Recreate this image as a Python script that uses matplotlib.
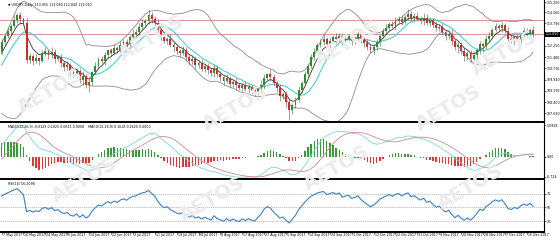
import matplotlib
matplotlib.use("Agg")
import matplotlib.pyplot as plt
import numpy as np
import pandas as pd

title = "USDJPY,Daily  113.055 113.080 112.840 113.010"
macd_title = "MACD(12,26,9) -0.0123 0.2025 0.0615 0.0008    MACD(12,26,9) 0.1618 0.1620 0.0000"
rsi_title = "RSI(14) 56.2098"

# april closes, only used to warm the indicators up
warmup_closes = [111.35, 111.10, 110.85, 110.70, 111.05, 110.80, 110.45, 110.10, 109.60, 109.15,
                 109.35, 108.90, 108.60, 108.45, 108.85, 109.05, 109.30, 109.10, 109.50, 110.05,
                 110.90, 111.10, 111.25, 111.55, 111.45, 111.85]

closes = [112.55, 112.95, 113.30, 113.65, 114.05, 114.35, 114.10, 113.80, 111.30, 111.55,
          111.20, 111.40, 111.25, 111.75, 111.90, 111.60, 111.85, 111.35, 111.50, 111.05,
          110.80, 110.95, 110.45, 110.30, 110.55, 109.90, 110.20, 109.55, 109.80, 110.45,
          110.90, 111.35, 111.20, 111.60, 111.95, 111.75, 112.10, 111.95, 112.35, 112.55,
          112.40, 112.85, 113.10, 113.20, 113.55, 113.80, 113.95, 114.35, 114.10, 113.85,
          113.35, 112.90, 112.60, 112.75, 112.35, 112.15, 111.90, 111.75, 111.95, 111.50,
          111.20, 111.35, 110.95, 111.05, 110.70, 110.85, 110.60, 110.40, 110.75, 110.30,
          110.10, 109.85, 110.05, 109.65, 109.80, 109.55, 109.40, 109.60, 109.30, 109.45,
          109.20, 109.10, 109.35, 109.60, 110.05, 110.30, 110.15, 109.70, 109.35, 108.85,
          108.95, 108.40, 107.85, 108.20, 108.55, 109.20, 109.70, 110.30, 110.90, 111.50,
          111.85, 112.30, 112.55, 112.70, 112.40, 112.60, 112.85, 112.70, 112.95, 112.55,
          112.75, 112.90, 112.60, 112.80, 113.05, 112.70, 112.45, 112.20, 111.95, 112.15,
          112.50, 112.95, 113.25, 113.50, 113.75, 113.60, 113.95, 114.10, 113.90, 114.25,
          114.45, 114.15, 114.30, 114.10, 113.95, 114.20, 113.85, 114.00, 113.70, 113.45,
          113.55, 113.20, 112.95, 113.10, 112.60, 112.15, 112.35, 111.90, 111.55, 111.75,
          111.35, 111.60, 111.95, 112.40, 112.25, 112.70, 112.95, 113.35, 113.60, 113.45,
          113.70, 113.30, 112.75, 112.60, 112.85, 112.70, 113.00, 113.25, 113.10, 113.35,
          113.05]

# wick lengths in hundredths of a yen
upper_wick = [20, 15, 25, 10, 30, 18, 22, 12, 35, 20,
              15, 28, 12, 20, 25, 10, 30, 18, 14, 22,
              16, 25, 12, 30, 20, 18, 35, 15, 22, 10,
              28, 14, 20, 25, 12, 18, 30, 16, 22, 15,
              20, 12, 28, 18, 25, 30, 15, 40, 22, 18,
              25, 15, 20, 12, 30, 18, 22, 15, 28, 20,
              14, 25, 18, 22, 30, 12, 20, 16, 25, 18,
              22, 15, 30, 12, 20, 25, 18, 14, 28, 20,
              15, 22, 18, 30, 25, 12, 40, 20, 15, 28,
              18, 22, 25, 15, 20, 30, 18, 25, 12, 22,
              28, 15, 20, 35, 18, 25, 12, 30, 20, 15,
              22, 18, 28, 12, 25, 20, 15, 30, 18, 22,
              25, 12, 20, 28, 15, 22, 30, 18, 25, 15,
              35, 20, 18, 25, 12, 30, 22, 15, 20, 28,
              18, 25, 15, 22, 30, 12, 20, 18, 25, 15,
              22, 28, 18, 20, 15, 30, 25, 12, 22, 18,
              20, 15, 28, 22, 18, 25, 12, 30, 20, 15,
              25]
lower_wick = [18, 22, 12, 25, 15, 20, 30, 14, 25, 20,
              22, 15, 28, 12, 20, 25, 18, 30, 15, 22,
              25, 18, 30, 15, 22, 20, 35, 18, 45, 25,
              15, 20, 12, 25, 18, 22, 15, 20, 12, 18,
              22, 15, 20, 12, 18, 15, 25, 20, 28, 18,
              20, 25, 15, 22, 18, 30, 20, 25, 15, 22,
              28, 18, 25, 20, 15, 22, 30, 18, 25, 20,
              22, 28, 15, 25, 18, 30, 20, 22, 15, 28,
              20, 25, 18, 22, 30, 15, 28, 20, 25, 35,
              22, 30, 70, 25, 20, 15, 18, 12, 20, 15,
              22, 18, 15, 25, 20, 28, 15, 22, 18, 25,
              20, 15, 28, 22, 18, 25, 30, 20, 15, 22,
              18, 25, 15, 20, 22, 15, 25, 18, 20, 15,
              22, 18, 25, 15, 20, 28, 18, 22, 25, 20,
              15, 22, 28, 20, 25, 18, 35, 22, 30, 25,
              20, 28, 35, 25, 40, 22, 18, 25, 15, 20,
              22, 15, 25, 18, 28, 20, 22, 15, 25, 18,
              20]

level_lines = [114.03, 113.07]
price_ticks = [115.250, 114.560, 113.790, 112.250, 111.480, 110.710, 109.940, 109.170, 108.400, 107.630]
rsi_levels = [70, 50, 30]
date_labels = ["7 May 2017", "16 May 2017", "24 May 2017", "6 Jun 2017", "14 Jun 2017", "22 Jun 2017",
               "3 Jul 2017", "11 Jul 2017", "19 Jul 2017", "28 Jul 2017", "8 Aug 2017", "17 Aug 2017",
               "27 Aug 2017", "5 Sep 2017", "14 Sep 2017", "24 Sep 2017", "3 Oct 2017", "12 Oct 2017",
               "22 Oct 2017", "31 Oct 2017", "9 Nov 2017", "20 Nov 2017", "28 Nov 2017", "7 Dec 2017",
               "15 Dec 2017"]

# indicators
n = len(closes)
w = len(warmup_closes)
s = pd.Series(warmup_closes + closes)
mid = s.rolling(20).mean()
sd = s.rolling(20).std(ddof=0)
bb_up = (mid + 2 * sd).values[w:]
bb_dn = (mid - 2 * sd).values[w:]
ma_fast = s.ewm(span=5, adjust=False).mean().values[w:]
ma_slow = s.rolling(10).mean().values[w:]
macd = s.ewm(span=12, adjust=False).mean() - s.ewm(span=26, adjust=False).mean()
signal = macd.rolling(9).mean()
hist = (macd - signal).values[w:]
macd = macd.values[w:]
signal = signal.values[w:]
d = s.diff()
gain = d.clip(lower=0).ewm(alpha=1 / 14, adjust=False).mean()
loss = (-d.clip(upper=0)).ewm(alpha=1 / 14, adjust=False).mean()
rsi = (100 - 100 / (1 + gain / loss)).values[w:]

c = np.array(closes)
o = np.array([warmup_closes[-1]] + closes[:-1])
hi = np.maximum(o, c) + np.array(upper_wick) / 100
lo = np.minimum(o, c) - np.array(lower_wick) / 100
x = np.arange(n)

fig = plt.figure(figsize=(5.6, 2.4), dpi=100)
W = 544 / 560
ax = fig.add_axes([0, (240 - 122) / 240, W, 122 / 240])
ax2 = fig.add_axes([0, (240 - 179) / 240, W, 56 / 240])
ax3 = fig.add_axes([0, (240 - 232) / 240, W, 52 / 240])

fs = 2.3
for a in (ax, ax2, ax3):
    a.set_xlim(-0.5, 173.5)
    a.spines["left"].set_visible(False)
    a.spines["top"].set_visible(False)
    a.spines["bottom"].set_linewidth(1.4)
    a.spines["right"].set_linewidth(0.8)
    a.yaxis.tick_right()
    a.tick_params(axis="y", labelsize=fs, length=1.2, width=0.4, pad=0.6)
    a.set_xticks([])

# watermark
for wx, wy in [(0.09, 0.62), (0.27, 0.84), (0.42, 0.55), (0.62, 0.82), (0.8, 0.55),
               (0.15, 0.25), (0.38, 0.17), (0.6, 0.3), (0.84, 0.22), (0.9, 0.78)]:
    fig.text(wx, wy, "AETOS", fontsize=14, fontweight="bold", color="#ececec",
             rotation=30, ha="center", va="center", zorder=0)

# price panel
ax.set_ylim(107.04, 115.4)
for lv in level_lines:
    ax.axhline(lv, color="#d99a9a", lw=0.8, zorder=1)
ax.plot(x, bb_up, color="#8c8c8c", lw=0.6)
ax.plot(x, bb_dn, color="#8c8c8c", lw=0.6)
ax.plot(x, ma_slow, color="#33cccc", lw=0.7)
ax.plot(x, ma_fast, color="#333333", lw=0.6)
up = c >= o
cols = np.where(up, "#2e8b2e", "#d42a2a")
ax.vlines(x, lo, hi, colors="#555555", lw=0.4, zorder=3)
ax.bar(x, np.maximum(np.abs(c - o), 0.02), bottom=np.minimum(o, c), width=0.6,
       color=cols, zorder=4)
ax.set_yticks(price_ticks)
ax.set_yticklabels(["%.3f" % t for t in price_ticks])
ax.text(174.0, c[-1], "%.3f" % c[-1], fontsize=fs, color="white", va="center", ha="left",
        bbox=dict(boxstyle="square,pad=0.15", fc="black", ec="none"), clip_on=False)
ax.text(0.015, 0.975, "\u25bc " + title, transform=ax.transAxes, fontsize=fs, va="top")

# macd panel
hcols = np.where(hist >= 0, "#3a9a3a", "#d83a3a")
ax2.bar(x, hist, width=0.45, color=hcols)
ax2.plot(x, macd, color="#7fd6d6", lw=0.6)
ax2.plot(x, signal, color="#c98a96", lw=0.6)
top = np.nanmax(macd) * 1.08
bot = np.nanmin(macd) * 1.08
ax2.set_ylim(bot, top)
ax2.set_yticks([top * 0.94, 0, bot * 0.9])
ax2.set_yticklabels(["%.4f" % top, "0.00", "%.3f" % bot])
ax2.text(0.015, 0.96, macd_title, transform=ax2.transAxes, fontsize=fs, va="top")

# rsi panel
ax3.set_ylim(14, 90)
for lv in rsi_levels:
    ax3.axhline(lv, color="#b0b0b0", lw=0.5, ls=(0, (2, 1)))
ax3.plot(x, rsi, color="#3d7fc4", lw=0.8)
ax3.set_yticks(rsi_levels)
ax3.set_yticklabels([str(v) for v in rsi_levels])
ax3.text(0.015, 0.97, rsi_title, transform=ax3.transAxes, fontsize=fs, va="top")

for k, lab in enumerate(date_labels):
    xi = k * 7
    ax3.plot([xi, xi], [14, 11], color="black", lw=0.4, clip_on=False)
    ax3.text(xi + 0.3, 12.5, lab, fontsize=fs, ha="left", va="top", clip_on=False)

fig.savefig("out.png", dpi=100)
